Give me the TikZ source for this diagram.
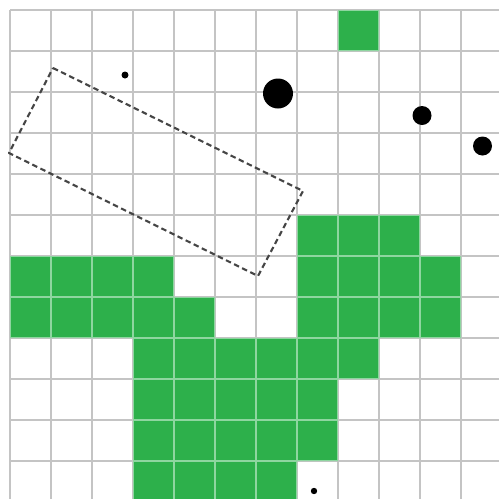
\documentclass[tikz,border=0pt]{standalone}
\usepackage{tikz}
\definecolor{cellgreen}{HTML}{2DB04B}
\definecolor{gridgray}{HTML}{C4C4C4}
\definecolor{innerline}{HTML}{8ED6A0}
\definecolor{dashgray}{HTML}{454545}
\tikzset{
  gridline/.style={draw=gridgray, line width=1.2pt},
  dot/.style={fill=black, draw=none},
  dashbox/.style={draw=dashgray, line width=2.1pt, dash pattern=on 5.5pt off 3.5pt, line join=round}
}
\newcommand{\greencells}{8/0,
  7/5,8/5,9/5,
  0/6,1/6,2/6,3/6,7/6,8/6,9/6,10/6,
  0/7,1/7,2/7,3/7,4/7,7/7,8/7,9/7,10/7,
  3/8,4/8,5/8,6/8,7/8,8/8,
  3/9,4/9,5/9,6/9,7/9,
  3/10,4/10,5/10,6/10,7/10,
  3/11,4/11,5/11,6/11}
\begin{document}
\begin{tikzpicture}[x=1pt,y=-1pt]
\fill[white] (0,0) rectangle (499,499);
\useasboundingbox (0,0) rectangle (499,499);
% grid
\foreach \c in {0,...,11} {
  \draw[gridline] ({10+41*\c},10) -- ({10+41*\c},499);
  \draw[gridline] (10,{10+41*\c}) -- (499,{10+41*\c});
}
% green cells
\foreach \c/\r in \greencells {
  \fill[cellgreen] ({10+41*\c},{10+41*\r}) rectangle +(41,41);
}
% light lines between green cells
\begin{scope}
  \clip \foreach \c/\r in \greencells { ({10+41*\c},{10+41*\r}) rectangle +(41,41) };
  \foreach \c in {0,...,11} {
    \draw[innerline, line width=1.2pt] ({10+41*\c},10) -- ({10+41*\c},499);
    \draw[innerline, line width=1.2pt] (10,{10+41*\c}) -- (499,{10+41*\c});
  }
\end{scope}
% dashed rectangle
\coordinate (ta) at (53,68);
\coordinate (tb) at (303,191);
\coordinate (tc) at (258,276);
\coordinate (td) at (9,153);
\draw[dashbox] (ta) -- (tb) -- (tc) -- (td) -- cycle;
% dots
\fill[dot] (125,75) circle (3.5);
\fill[dot] (278,93.5) circle (15);
\fill[dot] (422,115.5) circle (9.5);
\fill[dot] (482.5,146) circle (9.5);
\fill[dot] (314,491) circle (3.2);
\end{tikzpicture}
\end{document}
